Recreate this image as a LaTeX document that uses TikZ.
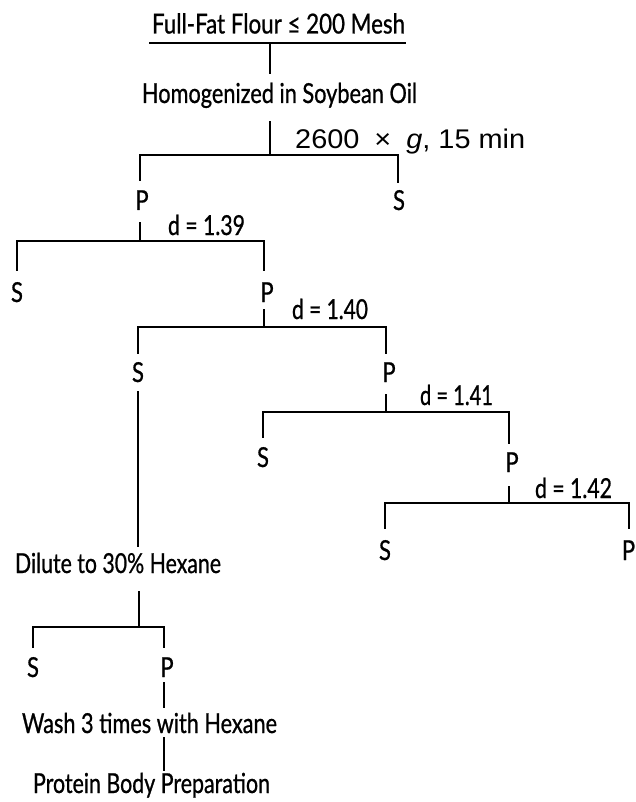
\documentclass[tikz,border=0pt]{standalone}
\usepackage{fontspec}
\usepackage{graphicx}
\setmainfont{Lato}[FakeStretch=0.8, FakeBold=0.8]
\newfontfamily\helv{Liberation Sans}
\newcommand\fitw[2]{\resizebox{#1}{\height}{#2}}
\begin{document}
\begin{tikzpicture}[x=1pt,y=-1pt,
  lbl/.style={anchor=base, inner sep=0pt, font=\fontsize{27.5}{32}\selectfont},
  ln/.style={line width=1.8pt, line cap=rect}]
\useasboundingbox (0,0) rectangle (636,802);

% ---- text nodes ----
\node[lbl] (title) at (278.5,33.5) {\fitw{253pt}{Full-Fat Flour ≤ 200 Mesh}};
\node[lbl] (hom) at (279.5,103) {\fitw{275pt}{Homogenized in Soybean Oil}};
\node[lbl, anchor=base west, font=\helv\fontsize{27}{32}\selectfont] (cen) at (295,149)
  {\fitw{230pt}{2600\hspace{14pt}×\hspace{14pt}\textit{g}, 15 min}};
\node[lbl] (P1) at (142,210) {P};
\node[lbl] (S1) at (399,210) {S};
\node[lbl] (d1) at (206.5,235) {\fitw{77pt}{d = 1.39}};
\node[lbl] (S2) at (17,302) {S};
\node[lbl] (P2) at (267,302) {P};
\node[lbl] (d2) at (330,319) {\fitw{76pt}{d = 1.40}};
\node[lbl] (S3) at (138,382) {S};
\node[lbl] (P3) at (389,382) {P};
\node[lbl] (d3) at (456.5,405) {\fitw{73pt}{d = 1.41}};
\node[lbl] (S4) at (263,467) {S};
\node[lbl] (P4) at (512,472) {P};
\node[lbl] (d4) at (573.5,498) {\fitw{77pt}{d = 1.42}};
\node[lbl] (S5) at (385,560) {S};
\node[lbl] (P5) at (628.5,560) {P};
\node[lbl] (dil) at (118,573) {\fitw{206pt}{Dilute to 30\% Hexane}};
\node[lbl] (S6) at (33,677) {S};
\node[lbl] (P6) at (167,677) {P};
\node[lbl] (wash) at (149.5,733) {\fitw{255pt}{Wash 3 times with Hexane}};
\node[lbl] (prot) at (151.5,793) {\fitw{237pt}{Protein Body Preparation}};

% ---- junction coordinates ----
\coordinate (ulL) at (150,43);  \coordinate (ulR) at (405,43);
\coordinate (a0) at (270,43);   \coordinate (a1) at (270,73);
\coordinate (a2) at (270,122);  \coordinate (a3) at (270,155);
\coordinate (h1L) at (140,155); \coordinate (h1R) at (398,155);
\coordinate (t1L) at (140,180); \coordinate (t1R) at (398,182);
\coordinate (b1) at (140,223);  \coordinate (b2) at (140,241);
\coordinate (h2L) at (17,241);  \coordinate (h2R) at (264,241);
\coordinate (t2L) at (17,270);  \coordinate (t2R) at (264,270);
\coordinate (c1) at (264,310);  \coordinate (c2) at (264,327);
\coordinate (h3L) at (138,327); \coordinate (h3R) at (386,327);
\coordinate (t3L) at (138,353); \coordinate (t3R) at (386,353);
\coordinate (s3a) at (138,392); \coordinate (s3b) at (138,546);
\coordinate (e1) at (386,395);  \coordinate (e2) at (386,412);
\coordinate (h4L) at (263,412); \coordinate (h4R) at (509,412);
\coordinate (t4L) at (263,437); \coordinate (t4R) at (509,443);
\coordinate (f1) at (509,487);  \coordinate (f2) at (509,503);
\coordinate (h5L) at (385,503); \coordinate (h5R) at (629,503);
\coordinate (t5L) at (385,528); \coordinate (t5R) at (629,528);
\coordinate (g1) at (139,592);  \coordinate (g2) at (139,627);
\coordinate (h6L) at (33,627);  \coordinate (h6R) at (164,627);
\coordinate (t6L) at (33,647);  \coordinate (t6R) at (164,647);
\coordinate (k1) at (164,683);  \coordinate (k2) at (164,707);
\coordinate (k3) at (164,738);  \coordinate (k4) at (164,770);

% ---- connectors ----
\draw[ln] (ulL) -- (ulR);
\draw[ln] (a0) -- (a1);
\draw[ln] (a2) -- (a3);
\draw[ln] (t1L) -- (h1L) -- (h1R) -- (t1R);
\draw[ln] (b1) -- (b2);
\draw[ln] (t2L) -- (h2L) -- (h2R) -- (t2R);
\draw[ln] (c1) -- (c2);
\draw[ln] (t3L) -- (h3L) -- (h3R) -- (t3R);
\draw[ln] (s3a) -- (s3b);
\draw[ln] (e1) -- (e2);
\draw[ln] (t4L) -- (h4L) -- (h4R) -- (t4R);
\draw[ln] (f1) -- (f2);
\draw[ln] (t5L) -- (h5L) -- (h5R) -- (t5R);
\draw[ln] (g1) -- (g2);
\draw[ln] (t6L) -- (h6L) -- (h6R) -- (t6R);
\draw[ln] (k1) -- (k2);
\draw[ln] (k3) -- (k4);
\end{tikzpicture}
\end{document}
